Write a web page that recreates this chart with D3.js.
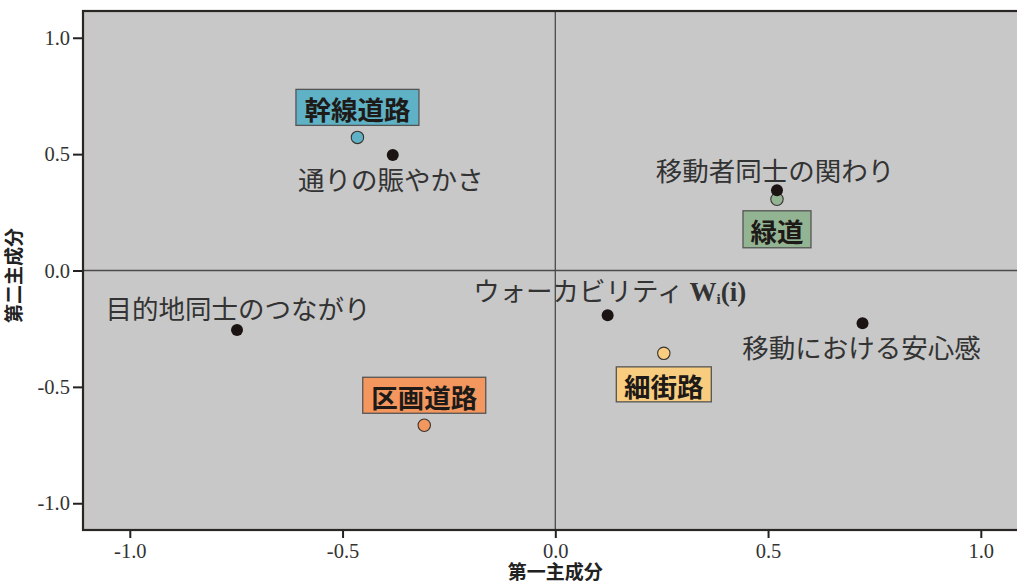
<!DOCTYPE html>
<html lang="ja">
<head>
<meta charset="utf-8">
<script src="https://cdn.jsdelivr.net/npm/d3@7"></script>
<style>
  html, body { margin: 0; padding: 0; background: #fff; overflow: hidden; }
  svg { display: block; }
</style>
</head>
<body>
<svg id="chart" width="1017" height="581"></svg>
<script>
// Principal component loadings of the walkability variables
const variableNames = ["通りの賑やかさ", "移動者同士の関わり", "目的地同士のつながり", "ウォーカビリティ", "移動における安心感"];
const variablePC1   = [-0.382, 0.521, -0.748, 0.123, 0.722];
const variablePC2   = [0.496, 0.345, -0.256, -0.192, -0.227];

// Principal component scores of the road types
const roadNames = ["幹線道路", "緑道", "区画道路", "細街路"];
const roadPC1   = [-0.465, 0.521, -0.308, 0.255];
const roadPC2   = [0.572, 0.306, -0.665, -0.356];

const tickValues = [-1.0, -0.5, 0.0, 0.5, 1.0];
const xTitle = "第一主成分";
const yTitle = "第二主成分";

// Styling / label placement (pixels relative to each point)
const roadColors = {"幹線道路": "#5fb1c5", "緑道": "#93b493", "区画道路": "#f3975f", "細街路": "#f8cd7f"};
const varLabelLayout = {
  "通りの賑やかさ": {dx: -2, dy: 35},
  "移動者同士の関わり": {dx: -2, dy: -9},
  "目的地同士のつながり": {dx: 1, dy: -11},
  "ウォーカビリティ": {dx: 2, dy: -14},
  "移動における安心感": {dx: -1, dy: 35}
};
const roadLabelLayout = {
  "幹線道路": {dy: -30, w: 123, h: 36},
  "緑道": {dy: 30, w: 68, h: 37},
  "区画道路": {dy: -30, w: 123, h: 36},
  "細街路": {dy: 31, w: 95, h: 35}
};

const svg = d3.select("#chart");
const plotLeft = 83, plotTop = 11, plotBottom = 530;
const x = d3.scaleLinear().domain([-1.11, 1.15]).range([plotLeft, plotLeft + 2.26 * 425.5]);
const y = d3.scaleLinear().domain([-1.115, 1.115]).range([plotBottom, plotTop]);
const plotRight = x.range()[1];

const sans = "'Noto Sans CJK JP', 'Noto Sans', sans-serif";
const serif = "'Liberation Serif', 'DejaVu Serif', serif";

// plot background
svg.append("rect")
  .attr("x", plotLeft).attr("y", plotTop)
  .attr("width", plotRight - plotLeft).attr("height", plotBottom - plotTop)
  .attr("fill", "#c8c8c8");

// zero reference lines
svg.append("line")
  .attr("x1", x(0)).attr("x2", x(0)).attr("y1", plotTop).attr("y2", plotBottom)
  .attr("stroke", "#4a4a4a").attr("stroke-width", 1.3);
svg.append("line")
  .attr("x1", plotLeft).attr("x2", plotRight).attr("y1", y(0)).attr("y2", y(0))
  .attr("stroke", "#4a4a4a").attr("stroke-width", 1.3);

// axes
const fmt = d => d3.format(".1f")(d).replace("−", "-");
const xAxis = svg.append("g")
  .attr("transform", `translate(0,${plotBottom})`)
  .call(d3.axisBottom(x).tickValues(tickValues).tickFormat(fmt).tickSize(8).tickPadding(5));
const yAxis = svg.append("g")
  .attr("transform", `translate(${plotLeft},0)`)
  .call(d3.axisLeft(y).tickValues(tickValues).tickFormat(fmt).tickSize(10).tickPadding(3));
[xAxis, yAxis].forEach(g => {
  g.select(".domain").remove();
  g.selectAll(".tick line").attr("stroke", "#222").attr("stroke-width", 2);
  g.selectAll(".tick text")
    .attr("fill", "#333")
    .style("font-family", serif)
    .style("font-size", "20.5px");
});

// plot frame
svg.append("rect")
  .attr("x", plotLeft).attr("y", plotTop)
  .attr("width", plotRight - plotLeft).attr("height", plotBottom - plotTop)
  .attr("fill", "none").attr("stroke", "#2a2624").attr("stroke-width", 2.2);

// axis titles
svg.append("text")
  .attr("x", x(0)).attr("y", 578.5)
  .attr("text-anchor", "middle")
  .style("font-family", sans).style("font-weight", "bold").style("font-size", "19px")
  .attr("fill", "#222")
  .text(xTitle);
svg.append("text")
  .attr("transform", `translate(21,${y(0) + 5}) rotate(-90)`)
  .attr("text-anchor", "middle")
  .style("font-family", sans).style("font-weight", "bold").style("font-size", "19px")
  .attr("fill", "#222")
  .text(yTitle);

// road type points and boxed labels
const roads = roadNames.map((n, i) => ({name: n, pc1: roadPC1[i], pc2: roadPC2[i]}));
roads.forEach(d => {
  const L = roadLabelLayout[d.name];
  const cx = x(d.pc1), cy = y(d.pc2) + L.dy;
  svg.append("rect")
    .attr("x", cx - L.w / 2).attr("y", cy - L.h / 2)
    .attr("width", L.w).attr("height", L.h)
    .attr("fill", roadColors[d.name])
    .attr("stroke", "#555").attr("stroke-width", 1.3);
  svg.append("text")
    .attr("x", cx).attr("y", cy + 1)
    .attr("text-anchor", "middle").attr("dominant-baseline", "central")
    .style("font-family", sans).style("font-weight", "bold").style("font-size", "26.5px")
    .attr("fill", "#1e1a18")
    .text(d.name);
});
svg.selectAll("circle.road").data(roads).join("circle")
  .attr("class", "road")
  .attr("cx", d => x(d.pc1)).attr("cy", d => y(d.pc2))
  .attr("r", 6.2)
  .attr("fill", d => roadColors[d.name])
  .attr("stroke", "#3a3430").attr("stroke-width", 1.1);

// variable points and labels
const vars = variableNames.map((n, i) => ({name: n, pc1: variablePC1[i], pc2: variablePC2[i]}));
vars.forEach(d => {
  const L = varLabelLayout[d.name];
  const t = svg.append("text")
    .attr("x", x(d.pc1) + L.dx).attr("y", y(d.pc2) + L.dy)
    .attr("text-anchor", "middle")
    .style("font-family", sans).style("font-size", "26.5px")
    .attr("fill", "#333");
  t.append("tspan").text(d.name);
  if (d.name === "ウォーカビリティ") {
    t.append("tspan").text(" ");
    t.append("tspan").text("W")
      .style("font-family", serif).style("font-weight", "bold").style("font-size", "27px");
    t.append("tspan").text("i")
      .style("font-family", serif).style("font-weight", "bold").style("font-size", "15px")
      .attr("dy", 3);
    t.append("tspan").text("(i)")
      .style("font-family", serif).style("font-weight", "bold").style("font-size", "27px")
      .attr("dy", -3);
  }
});
svg.selectAll("circle.var").data(vars).join("circle")
  .attr("class", "var")
  .attr("cx", d => x(d.pc1)).attr("cy", d => y(d.pc2))
  .attr("r", 6)
  .attr("fill", "#1c1412");
</script>
</body>
</html>
